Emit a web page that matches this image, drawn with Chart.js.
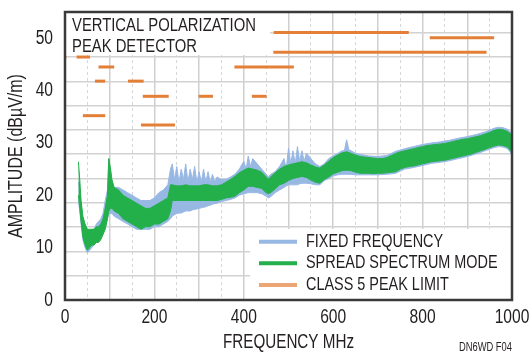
<!DOCTYPE html>
<html>
<head>
<meta charset="utf-8">
<script src="https://cdn.jsdelivr.net/npm/chart.js@4.4.1/dist/chart.umd.min.js"></script>
<style>
  html, body { margin: 0; padding: 0; background: #fff; }
  #wrap { width: 531px; height: 353px; }
</style>
</head>
<body>
<div id="wrap"><canvas id="emi-chart" width="531" height="353"></canvas></div>
<script>
// Données (MHz / dBµV/m)
const seriesNames = ['FIXED FREQUENCY', 'SPREAD SPECTRUM MODE', 'CLASS 5 PEAK LIMIT'];
const chartNote = ['VERTICAL POLARIZATION', 'PEAK DETECTOR'];
const yTickLabels = [0, 10, 20, 30, 40, 50];
const xTickLabels = [0, 200, 400, 600, 800, 1000];

// Fréquence fixe : enveloppe haute / basse
const fixedFreq = [
  30, 33, 36, 40, 45, 50, 55, 60, 65, 70,
  75, 80, 85, 90, 95, 98, 102, 105, 110, 120,
  130, 140, 150, 160, 170, 180, 190, 200, 210, 220,
  230, 236, 240, 245, 250, 255, 260, 265, 270, 275,
  280, 285, 290, 295, 300, 305, 310, 315, 320, 325,
  330, 335, 340, 350, 360, 370, 380, 390, 400, 405,
  410, 415, 420, 430, 440, 450, 455, 460, 470, 480,
  490, 495, 500, 505, 510, 515, 520, 525, 530, 535,
  540, 550, 560, 570, 580, 590, 600, 610, 620, 625,
  630, 635, 640, 650, 660, 680, 700, 720, 740, 760,
  780, 800, 820, 840, 860, 880, 900, 920, 940, 960,
  970, 980, 990, 1000
];
const fixedHigh = [
  22.5, 21, 18, 15.5, 14, 13, 13, 13.5, 13.5, 14.5,
  15, 15.5, 16.5, 19, 21, 27, 23, 22, 21.5, 21.5,
  21, 20.5, 20, 19.5, 19, 19, 19, 19.5, 20.5, 21,
  22, 25, 26, 23, 25.5, 22.5, 25, 23, 26, 22.5,
  25, 23, 25.5, 22.5, 24.5, 22.5, 25, 22.5, 24.5, 22.5,
  24, 22.5, 23.5, 23, 23, 23.5, 24, 25, 26.5, 25,
  27.5, 25.5, 27, 26, 25, 24, 23.5, 24, 24.5, 25.5,
  27, 25, 29, 26, 28.5, 26, 29.3, 26.5, 28.5, 26.5,
  28, 27, 26, 25.5, 26, 27, 27.5, 28, 28.5, 28.5,
  30.6, 28.7, 28.5, 28, 27.8, 27.5, 27.4, 27.6, 28.4, 28.9,
  29.3, 29.7, 30, 30.2, 30.5, 30.9, 31.2, 31.6, 32.1, 32.8,
  33, 32.9, 32.6, 31.8
];
const fixedLow = [
  19, 17, 14.5, 11.5, 10, 9, 9.5, 10, 10.5, 11,
  11.5, 12, 12.5, 14, 15.5, 16.5, 16.5, 16.5, 16, 15.5,
  15, 14.5, 14, 13.5, 13.5, 13.5, 13.5, 14, 14, 14.5,
  15, 15.5, 16, 16.3, 16.5, 16.6, 16.6, 16.8, 17, 17,
  17, 17.2, 17.3, 17.4, 17.5, 17.6, 17.7, 17.8, 18, 18.1,
  18.3, 18.4, 18.5, 18.8, 19, 19.2, 19.5, 20, 20.3, 20.4,
  20.5, 20.5, 20.5, 20.5, 20.3, 19.8, 19.5, 19.7, 20.5, 21,
  21.5, 21.8, 22, 22, 22, 22, 22, 22.2, 22.3, 22.3,
  22.3, 22.2, 22, 22, 22.8, 23.2, 23.7, 23.9, 24, 24,
  24, 24, 24, 23.9, 23.9, 23.9, 23.9, 24, 24.2, 25,
  25.3, 25.7, 26.1, 26.3, 26.6, 27, 27.4, 27.9, 28.5, 29.1,
  29.3, 29.2, 28.9, 27.8
];

// Spread spectrum : enveloppe haute / basse
const spreadFreq = [
  30, 33, 36, 40, 45, 50, 55, 60, 65, 70,
  75, 80, 85, 90, 95, 98, 102, 105, 110, 120,
  130, 140, 150, 160, 170, 180, 190, 200, 210, 220,
  230, 236, 240, 250, 260, 270, 280, 290, 300, 310,
  320, 330, 340, 350, 360, 370, 380, 390, 400, 410,
  420, 430, 440, 450, 455, 460, 470, 480, 490, 500,
  510, 520, 530, 540, 550, 560, 570, 580, 590, 600,
  610, 620, 630, 640, 650, 660, 670, 680, 690, 700,
  710, 720, 730, 740, 750, 760, 770, 780, 790, 800,
  810, 820, 830, 840, 850, 860, 870, 880, 890, 900,
  910, 920, 930, 940, 950, 960, 970, 980, 990, 1000
];
const spreadHigh = [
  26.4, 23, 19, 16, 14.5, 13.5, 13.5, 13.5, 13.5, 14,
  14, 14.5, 15.5, 17.5, 20, 27, 25, 23, 21.5, 21,
  20, 19.5, 19, 18.5, 18, 17.5, 17.5, 18, 18.5, 19,
  19.5, 22, 22, 21.8, 21.8, 22, 21.8, 21.8, 21.8, 22,
  22, 21.8, 21.8, 22, 22.5, 23, 23.6, 24.3, 24.8, 25.2,
  25, 24.8, 24.4, 23.5, 23.1, 23.5, 24.3, 25, 25.5, 25.8,
  26, 26.2, 26.4, 26.2, 25.8, 25.4, 25.2, 25.8, 26.5, 27.2,
  27.7, 28.1, 28.3, 28, 27.7, 27.4, 27.3, 27.2, 27.1, 27,
  27, 27.2, 27.6, 28, 28.3, 28.5, 28.7, 28.9, 29.1, 29.3,
  29.5, 29.6, 29.7, 29.8, 29.9, 30.1, 30.3, 30.5, 30.7, 30.8,
  31, 31.2, 31.4, 31.7, 32, 32.4, 32.6, 32.5, 32.2, 31.5
];
const spreadLow = [
  20, 17.5, 15, 12, 10.5, 9.5, 10, 10.5, 10.5, 11,
  11, 11.5, 12.5, 13.5, 15.5, 17, 17.5, 17.5, 17, 16.5,
  15.5, 15, 14.5, 14, 13.5, 14, 14, 14.5, 14.5, 15,
  15.5, 17, 19, 19, 19, 19, 19, 19, 19, 19,
  19, 19, 19, 19.2, 19.5, 19.6, 19.8, 20.5, 21, 21.7,
  21.7, 21.5, 21.3, 20.5, 20.3, 20.5, 21.2, 22, 22.3, 22.8,
  23.2, 23.4, 23.6, 23.4, 22.9, 22.5, 22.3, 23, 23.5, 24.1,
  24.4, 24.7, 24.8, 24.7, 24.4, 24.2, 24.2, 24.2, 24.1, 24.2,
  24.2, 24.3, 24.4, 24.5, 25, 25.3, 25.5, 25.6, 25.8, 26,
  26.2, 26.4, 26.5, 26.6, 26.7, 26.9, 27.1, 27.3, 27.5, 27.7,
  27.9, 28.2, 28.5, 28.8, 29.1, 29.4, 29.6, 29.5, 29.2, 28.2
];

// Limite classe 5 (segments horizontaux)
const limitStart = [0, 26, 40, 67, 75, 141, 170, 174, 299, 379, 418, 466, 467, 816];
const limitEnd   = [3, 56, 90, 90, 110, 176, 246, 232, 331, 512, 451, 943, 769, 960];
const limitLevel = [46.4, 46.4, 35.2, 41.8, 44.5, 41.8, 33.4, 38.9, 38.9, 44.5, 38.9, 47.3, 51.1, 50.1];

// Couleurs et police (texte étroit type Helvetica Condensed)
const colFixed = '#98b8e4';
const colSpread = '#23b04b';
const colLimit = '#e37f36';
const colLimitLegend = '#eca574';
const colText = '#231f20';
const fontFamily = "'Liberation Sans', Arial, sans-serif";
const textScale = 0.78;

function points(xs, ys) {
    return xs.map((x, i) => ({ x: x, y: ys[i] }));
}

function buildDatasets() {
    // order : plus petit = dessiné au-dessus
    const sets = [
        { label: seriesNames[0] + ' low', data: points(fixedFreq, fixedLow), borderColor: colFixed, borderWidth: 1, fill: false, order: 4 },
        { label: seriesNames[0], data: points(fixedFreq, fixedHigh), borderColor: colFixed, borderWidth: 1, backgroundColor: colFixed, fill: '-1', order: 3 },
        { label: seriesNames[1] + ' low', data: points(spreadFreq, spreadLow), borderColor: colSpread, borderWidth: 1, fill: false, order: 2 },
        { label: seriesNames[1], data: points(spreadFreq, spreadHigh), borderColor: colSpread, borderWidth: 1, backgroundColor: colSpread, fill: '-1', order: 1 }
    ];
    limitStart.forEach((s, i) => {
        sets.push({
            label: seriesNames[2],
            data: [{ x: s, y: limitLevel[i] }, { x: limitEnd[i], y: limitLevel[i] }],
            borderColor: colLimit,
            borderWidth: 3,
            borderCapStyle: 'butt',
            fill: false,
            order: 0
        });
    });
    return sets;
}

function drawText(ctx, text, x, y, size, align, angle) {
    ctx.save();
    ctx.translate(x, y);
    if (angle) ctx.rotate(angle);
    ctx.scale(textScale, 1);
    ctx.font = size + 'px ' + fontFamily;
    ctx.fillStyle = colText;
    ctx.textAlign = align;
    ctx.textBaseline = 'middle';
    ctx.fillText(text, 0, 0);
    ctx.restore();
}

// Cadre, encart de titre, légende, graduations et référence
const decorations = {
    id: 'decorations',
    beforeDatasetsDraw(chart) {
        const ctx = chart.ctx;
        const a = chart.chartArea;
        ctx.save();
        ctx.fillStyle = '#fff';
        ctx.fillRect(a.left, a.top, 205, 43);
        ctx.fillRect(250, 229, a.right - 250, a.bottom - 229);
        ctx.restore();
    },
    afterDraw(chart) {
        const ctx = chart.ctx;
        const a = chart.chartArea;
        const xs = chart.scales.x;
        const ys = chart.scales.y;

        drawText(ctx, chartNote[0], a.left + 7, a.top + 14, 19, 'left');
        drawText(ctx, chartNote[1], a.left + 7, a.top + 35, 19, 'left');

        // Légende
        const legendColors = [colFixed, colSpread, colLimitLegend];
        const rowY = [241.7, 263.3, 285];
        seriesNames.forEach((name, i) => {
            ctx.save();
            ctx.strokeStyle = legendColors[i];
            ctx.lineWidth = 4;
            ctx.beginPath();
            ctx.moveTo(259, rowY[i]);
            ctx.lineTo(297, rowY[i]);
            ctx.stroke();
            ctx.restore();
            drawText(ctx, name, 306, rowY[i], 18.5, 'left');
        });

        // Graduations
        xTickLabels.forEach(v => drawText(ctx, String(v), xs.getPixelForValue(v), a.bottom + 17, 20, 'center'));
        yTickLabels.forEach(v => drawText(ctx, String(v), a.left - 12, ys.getPixelForValue(v), 20, 'right'));

        // Titres des axes
        drawText(ctx, 'FREQUENCY MHz', (a.left + a.right) / 2, 343, 19.5, 'center');
        drawText(ctx, 'AMPLITUDE (dBµV/m)', 16, (a.top + a.bottom) / 2, 20.5, 'center', -Math.PI / 2);

        // Cadre du graphique
        ctx.save();
        ctx.strokeStyle = '#3a3a3a';
        ctx.lineWidth = 2.5;
        ctx.strokeRect(a.left, a.top, a.right - a.left, a.bottom - a.top);
        ctx.restore();

        drawText(ctx, 'DN6WD F04', a.right, 348, 12, 'right');
    }
};

const canvas = document.getElementById('emi-chart');
new Chart(canvas, {
    type: 'line',
    data: { datasets: buildDatasets() },
    plugins: [decorations],
    options: {
        responsive: false,
        animation: false,
        devicePixelRatio: 1,
        layout: { padding: { top: 12, right: 19, left: 0, bottom: 0 } },
        elements: { point: { radius: 0 }, line: { tension: 0 } },
        plugins: { legend: { display: false }, tooltip: { enabled: false } },
        scales: {
            x: {
                type: 'linear',
                min: 0,
                max: 1000,
                ticks: { display: false, stepSize: 50, autoSkip: false },
                grid: {
                    drawTicks: false,
                    color: c => (c.tick && c.tick.value % 100 === 0) ? '#cfcfcf' : '#d6d6d6',
                    lineWidth: c => (c.tick && c.tick.value % 100 === 0) ? 1.5 : 1
                },
                border: {
                    display: false,
                    dash: c => (c.tick && c.tick.value % 100 !== 0) ? [3, 3] : []
                },
                afterFit: s => { s.height = 53; }
            },
            y: {
                type: 'linear',
                min: 0,
                max: 55,
                ticks: { display: false, stepSize: 10, includeBounds: false },
                grid: { display: false },
                border: { display: false },
                afterFit: s => { s.width = 65; }
            },
            g: {
                type: 'linear',
                position: 'left',
                min: 0,
                max: 11.85,
                ticks: { display: false, stepSize: 1, includeBounds: false },
                grid: { color: '#d2d2d2', lineWidth: 1.5, drawTicks: false },
                border: { display: false },
                afterFit: s => { s.width = 0; }
            }
        }
    }
});
</script>
</body>
</html>
